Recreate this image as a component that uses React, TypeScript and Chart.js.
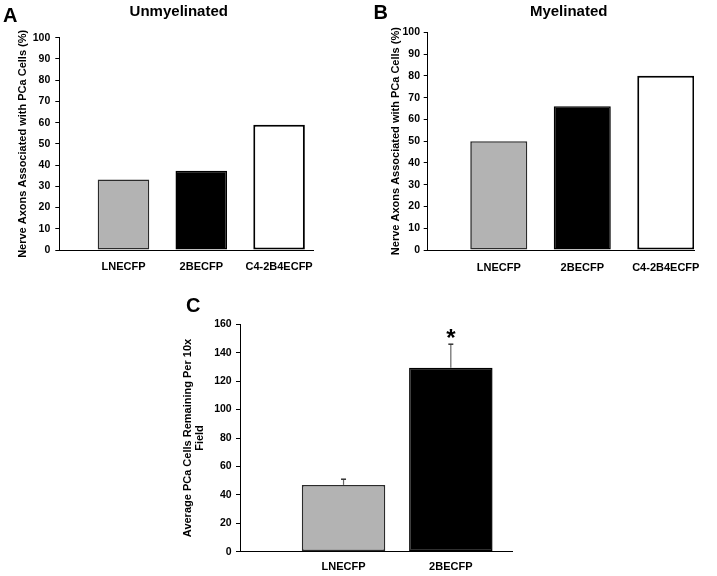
import React, { useEffect, useRef } from "react";
import { Chart, registerables } from "chart.js";

Chart.register(...registerables);

// ---------- data ----------
const categoriesAB = ["LNECFP", "2BECFP", "C4-2B4ECFP"];
const unmyelinatedPct = [33.2, 37.3, 59];
const myelinatedPct = [50, 66, 80];
const categoriesC = ["LNECFP", "2BECFP"];
const remainingMean = [47, 129.5];
const remainingError = [4, 16.5];
const significanceMarks = ["", "*"];
const yMaxAB = 100;
const yStepAB = 10;
const yMaxC = 160;
const yStepC = 20;
const titleA = "Unmyelinated";
const titleB = "Myelinated";
const yTitleAB = "Nerve Axons Associated with PCa Cells (%)";
const yTitleC = ["Average PCa Cells Remaining Per 10x", "Field"];

// ---------- styles ----------
const FONT = "'Liberation Sans', Arial, Helvetica, sans-serif";
const barFills = ["#b3b3b3", "#000000", "#ffffff"];
const barBorders = ["#2b2b2b", "#000000", "#000000"];
const barBorderWidths = [1.6, 1.5, 2];

const errorBarPlugin = {
  id: "errorBars",
  afterDatasetsDraw(chart: any, _args: any, opts: any) {
    if (!opts || !opts.errors) return;
    const meta = chart.getDatasetMeta(0);
    const y = chart.scales.y;
    const ctx = chart.ctx;
    ctx.save();
    meta.data.forEach((el: any, i: number) => {
      const v = opts.values[i];
      const e = opts.errors[i];
      const base = y.getPixelForValue(v);
      const top = y.getPixelForValue(v + e);
      ctx.strokeStyle = "#666666";
      ctx.lineWidth = 1.2;
      ctx.beginPath();
      ctx.moveTo(el.x, base);
      ctx.lineTo(el.x, top);
      ctx.stroke();
      ctx.strokeStyle = "#333333";
      ctx.lineWidth = 1.5;
      ctx.beginPath();
      ctx.moveTo(el.x - 2.5, top);
      ctx.lineTo(el.x + 2.5, top);
      ctx.stroke();
      const mark = opts.marks ? opts.marks[i] : "";
      if (mark) {
        ctx.fillStyle = "#000";
        ctx.font = `bold 24px ${FONT}`;
        ctx.textAlign = "center";
        ctx.textBaseline = "alphabetic";
        ctx.fillText(mark, el.x, top + 2);
      }
    });
    ctx.restore();
  },
};

type PanelProps = {
  left: number;
  top: number;
  width: number;
  height: number;
  categories: string[];
  values: number[];
  errors?: number[];
  marks?: string[];
  yMax: number;
  yStep: number;
  yTitle: string | string[];
  yTitleLineHeight: number;
  yTitlePad: number;
  yWidth: number;
  yTickPad: number;
  xHeight: number;
  xTickPad: number;
  xMin: number;
  xMax: number;
  barPct: number;
  padding: { left: number; top: number; right: number; bottom: number };
};

function Panel(p: PanelProps) {
  const ref = useRef<HTMLCanvasElement | null>(null);
  useEffect(() => {
    if (!ref.current) return;
    const n = p.values.length;
    const chart = new Chart(ref.current, {
      type: "bar",
      data: {
        datasets: [
          {
            data: p.values.map((v, i) => ({ x: i + 1, y: v })),
            backgroundColor: barFills.slice(0, n),
            borderColor: barBorders.slice(0, n),
            borderWidth: barBorderWidths.slice(0, n),
            borderSkipped: false,
            categoryPercentage: 1,
            barPercentage: p.barPct,
          } as any,
        ],
      },
      options: {
        animation: false,
        responsive: false,
        devicePixelRatio: 1,
        layout: { padding: p.padding },
        plugins: {
          legend: { display: false },
          tooltip: { enabled: false },
          title: { display: false },
          errorBars: p.errors
            ? { values: p.values, errors: p.errors, marks: p.marks }
            : false,
        } as any,
        scales: {
          x: {
            type: "linear",
            bounds: "data",
            min: p.xMin,
            max: p.xMax,
            offset: false,
            afterBuildTicks: (s: any) => {
              s.ticks = p.categories.map((_, i) => ({ value: i + 1 }));
            },
            ticks: {
              color: "#000",
              font: { size: 11, weight: "bold", family: FONT },
              padding: p.xTickPad,
              maxRotation: 0,
              minRotation: 0,
              autoSkip: false,
              callback: (v: any) => p.categories[Math.round(Number(v)) - 1] ?? "",
            },
            grid: { display: false, drawTicks: false, tickLength: 0, offset: false },
            border: { display: true, color: "#000", width: 1 },
            afterFit: (s: any) => {
              s.height = p.xHeight;
            },
          } as any,
          y: {
            min: 0,
            max: p.yMax,
            ticks: {
              stepSize: p.yStep,
              color: "#000",
              font: { size: 10.5, weight: "bold", family: FONT },
              padding: p.yTickPad,
            },
            grid: {
              drawOnChartArea: false,
              drawTicks: true,
              tickLength: 4,
              color: "#000",
              lineWidth: 1,
            },
            border: { display: true, color: "#000", width: 1 },
            title: {
              display: true,
              text: p.yTitle,
              color: "#000",
              font: { size: 11, weight: "bold", family: FONT, lineHeight: p.yTitleLineHeight },
              padding: { top: p.yTitlePad, bottom: 0 },
            },
            afterFit: (s: any) => {
              s.width = p.yWidth;
            },
          } as any,
        },
      },
      plugins: p.errors ? [errorBarPlugin as any] : [],
    });
    return () => chart.destroy();
  }, []);
  return (
    <canvas
      ref={ref}
      width={p.width}
      height={p.height}
      style={{ position: "absolute", left: p.left, top: p.top, width: p.width, height: p.height }}
    />
  );
}

function Label(props: {
  text: string;
  left: number;
  top: number;
  size: number;
  center?: boolean;
}) {
  const { text, left, top, size, center } = props;
  return (
    <div
      style={{
        position: "absolute",
        left: center ? left - 100 : left,
        top,
        width: center ? 200 : undefined,
        textAlign: center ? "center" : "left",
        fontFamily: FONT,
        fontWeight: "bold",
        fontSize: size,
        lineHeight: 1,
        whiteSpace: "nowrap",
        color: "#000",
      }}
    >
      {text}
    </div>
  );
}

export default function App() {
  return (
    <div
      style={{
        position: "absolute",
        left: 0,
        top: 0,
        width: 717,
        height: 576,
        background: "#fff",
        overflow: "hidden",
      }}
    >
      <Panel
        left={0}
        top={0}
        width={360}
        height={300}
        categories={categoriesAB}
        values={unmyelinatedPct}
        yMax={yMaxAB}
        yStep={yStepAB}
        yTitle={yTitleAB}
        yTitleLineHeight={1.2}
        yTitlePad={15.9}
        yWidth={59.3}
        yTickPad={5}
        xHeight={30}
        xTickPad={10.4}
        xMin={0.175}
        xMax={3.44}
        barPct={0.663}
        padding={{ left: 0, top: 37.7, right: 46.7, bottom: 20 }}
      />
      <Panel
        left={360}
        top={0}
        width={357}
        height={300}
        categories={categoriesAB}
        values={myelinatedPct}
        yMax={yMaxAB}
        yStep={yStepAB}
        yTitle={yTitleAB}
        yTitleLineHeight={1.2}
        yTitlePad={29.4}
        yWidth={67.7}
        yTickPad={3.7}
        xHeight={30}
        xTickPad={11}
        xMin={0.149}
        xMax={3.338}
        barPct={0.683}
        padding={{ left: 0, top: 32.3, right: 23, bottom: 20 }}
      />
      <Panel
        left={150}
        top={290}
        width={400}
        height={286}
        categories={categoriesC}
        values={remainingMean}
        errors={remainingError}
        marks={significanceMarks}
        yMax={yMaxC}
        yStep={yStepC}
        yTitle={yTitleC}
        yTitleLineHeight={1.1}
        yTitlePad={32}
        yWidth={90}
        yTickPad={4.3}
        xHeight={22}
        xTickPad={8.4}
        xMin={0.035}
        xMax={2.573}
        barPct={0.778}
        padding={{ left: 0, top: 34.3, right: 37.7, bottom: 2.3 }}
      />
      <Label text="A" left={3} top={4.5} size={20} />
      <Label text="B" left={373.5} top={2.4} size={20} />
      <Label text="C" left={186} top={295} size={20} />
      <Label text={titleA} left={178.8} top={3} size={15} center />
      <Label text={titleB} left={568.7} top={3} size={15} center />
    </div>
  );
}
